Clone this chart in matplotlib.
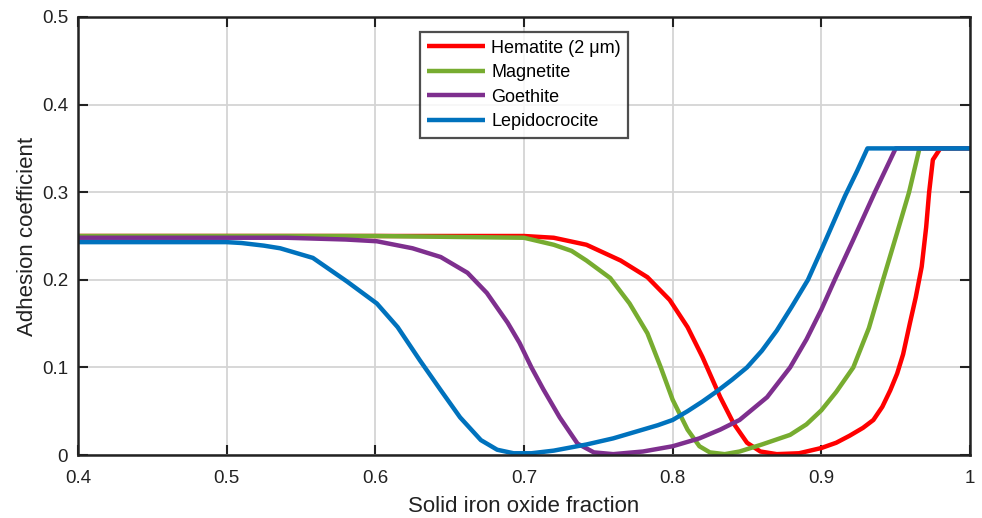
import matplotlib
matplotlib.use('Agg')
import matplotlib.pyplot as plt

plt.rcParams['font.family'] = ['Liberation Sans', 'DejaVu Sans']

# curves (solid iron oxide fraction vs adhesion coefficient)
hem_x = [0.4, 0.5, 0.6, 0.7, 0.72, 0.742, 0.765, 0.783, 0.798, 0.81, 0.82, 0.832, 0.841, 0.85, 0.859, 0.87,
         0.885, 0.9, 0.91, 0.919, 0.928, 0.935, 0.941, 0.9464, 0.951, 0.955, 0.9595, 0.9635, 0.9675, 0.9705,
         0.9725, 0.975, 0.98, 1.0]
hem_y = [0.25, 0.25, 0.25, 0.25, 0.248, 0.24, 0.222, 0.203, 0.177, 0.146, 0.112, 0.066, 0.036, 0.014, 0.004, 0.001,
         0.002, 0.008, 0.014, 0.022, 0.031, 0.04, 0.055, 0.074, 0.093, 0.115, 0.15, 0.18, 0.215, 0.26,
         0.3, 0.337, 0.35, 0.35]

mag_x = [0.4, 0.5, 0.6, 0.7, 0.72, 0.732, 0.742, 0.758, 0.771, 0.783, 0.792, 0.8, 0.81, 0.818, 0.825, 0.835, 0.845,
         0.86, 0.879, 0.89, 0.9, 0.91, 0.9215, 0.932, 0.9415, 0.951, 0.959, 0.966, 1.0]
mag_y = [0.25, 0.25, 0.25, 0.248, 0.24, 0.233, 0.222, 0.202, 0.173, 0.139, 0.1, 0.063, 0.029, 0.01, 0.003, 0.001, 0.004,
         0.012, 0.023, 0.035, 0.051, 0.072, 0.1, 0.145, 0.2, 0.254, 0.3, 0.35, 0.35]

goe_x = [0.4, 0.5, 0.54, 0.58, 0.601, 0.625, 0.644, 0.662, 0.675, 0.689, 0.697, 0.705, 0.713, 0.724, 0.736, 0.747, 0.76,
         0.78, 0.8, 0.818, 0.832, 0.845, 0.8635, 0.879, 0.89, 0.9, 0.909, 0.921, 0.936, 0.95, 1.0]
goe_y = [0.248, 0.248, 0.248, 0.246, 0.244, 0.236, 0.226, 0.208, 0.185, 0.151, 0.128, 0.1, 0.075, 0.043, 0.013, 0.003, 0.001,
         0.004, 0.01, 0.019, 0.029, 0.04, 0.066, 0.1, 0.132, 0.166, 0.2, 0.244, 0.3, 0.35, 0.35]

lep_x = [0.4, 0.5, 0.51, 0.525, 0.536, 0.558, 0.581, 0.601, 0.615, 0.63, 0.644, 0.657, 0.671, 0.682, 0.693, 0.705, 0.72,
         0.742, 0.76, 0.776, 0.79, 0.8, 0.81, 0.82, 0.83, 0.84, 0.85, 0.86, 0.87, 0.88, 0.891, 0.9, 0.908, 0.916,
         0.924, 0.931, 1.0]
lep_y = [0.243, 0.243, 0.242, 0.239, 0.236, 0.225, 0.198, 0.173, 0.146, 0.108, 0.074, 0.043, 0.017, 0.006, 0.002, 0.002, 0.005,
         0.012, 0.019, 0.027, 0.034, 0.04, 0.05, 0.061, 0.073, 0.086, 0.1, 0.119, 0.142, 0.169, 0.2, 0.234, 0.265, 0.296,
         0.324, 0.35, 0.35]

labels = ['Hematite (2 \u03bcm)', 'Magnetite', 'Goethite', 'Lepidocrocite']
colors = ['#FF0000', '#77AC30', '#7E2F8E', '#0072BD']

fig = plt.figure(figsize=(9.82, 5.18), dpi=100)
ax = fig.add_axes([0.0794, 0.1216, 0.9084, 0.8456])

series = [(hem_x, hem_y), (mag_x, mag_y), (goe_x, goe_y), (lep_x, lep_y)]
for (xs, ys), lab, c in zip(series, labels, colors):
    ax.plot(xs, ys, color=c, lw=3.2, label=lab, solid_joinstyle='round', solid_capstyle='butt')

ax.set_xlim(0.4, 1.0)
ax.set_ylim(0, 0.5)
ax.set_xticks([0.4, 0.5, 0.6, 0.7, 0.8, 0.9, 1.0])
ax.set_xticklabels(['0.4', '0.5', '0.6', '0.7', '0.8', '0.9', '1'])
ax.set_yticks([0, 0.1, 0.2, 0.3, 0.4, 0.5])
ax.set_yticklabels(['0', '0.1', '0.2', '0.3', '0.4', '0.5'])
ax.grid(True, color='#d4d4d4', lw=1.3)
ax.set_axisbelow(True)
ax.tick_params(direction='in', length=7, width=1.5, top=True, right=True,
               labelsize=13.5, colors='#222222')
ax.tick_params(axis='x', pad=11)
ax.tick_params(axis='y', pad=7)
for s in ax.spines.values():
    s.set_linewidth(1.8)
    s.set_color('#222222')

ax.set_xlabel('Solid iron oxide fraction', fontsize=16, color='#222222', labelpad=6)
ax.set_ylabel('Adhesion coefficient', fontsize=16, color='#222222', labelpad=3)

leg = ax.legend(loc='upper center', bbox_to_anchor=(0.5, 0.965), fontsize=13,
                frameon=True, fancybox=False, handlelength=3.2, borderpad=0.4,
                labelspacing=0.42, handletextpad=0.35, borderaxespad=0)
leg.get_frame().set_edgecolor('#222222')
leg.get_frame().set_linewidth(1.6)

fig.savefig('out.png', dpi=100)
